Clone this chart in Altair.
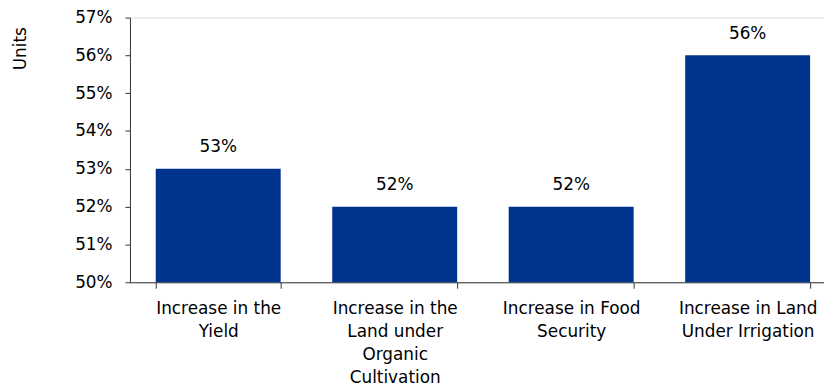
import altair as alt
import pandas as pd

categories = [
    "Increase in the Yield",
    "Increase in the Land under Organic Cultivation",
    "Increase in Food Security",
    "Increase in Land Under Irrigation",
]
label_lines = [
    "Increase in the|Yield",
    "Increase in the|Land under|Organic|Cultivation",
    "Increase in Food|Security",
    "Increase in Land|Under Irrigation",
]
values = [0.53, 0.52, 0.52, 0.56]
y_ticks = [0.50, 0.51, 0.52, 0.53, 0.54, 0.55, 0.56, 0.57]

df = pd.DataFrame({"cat": label_lines, "value": values, "name": categories})

FONT = "DejaVu Sans"

x_scale = alt.Scale(paddingInner=0.292, paddingOuter=0.1124, align=0.65)

x_enc = alt.X(
    "cat:N",
    sort=label_lines,
    title=None,
    scale=x_scale,
    axis=alt.Axis(
        labelAngle=0,
        labelExpr="split(datum.label, '|')",
        labelFont=FONT,
        labelFontSize=17,
        labelColor="#000000",
        labelLineHeight=23.5,
        labelPadding=12,
        labelBaseline="top",
        tickBand="extent",
        tickSize=6,
        tickColor="#333333",
        domainColor="#333333",
        labelLimit=300,
        labelOverlap=False,
    ),
)

y_scale = alt.Scale(domain=[0.50, 0.57], zero=False, nice=False)

bars = alt.Chart(df).mark_bar(color="#00338D").encode(
    x=x_enc,
    y=alt.Y(
        "value:Q",
        scale=y_scale,
        title="Units",
        axis=alt.Axis(
            values=y_ticks,
            tickCount=10,
            format=".0%",
            grid=False,
            labelFont=FONT,
            labelFontSize=17,
            labelColor="#000000",
            labelPadding=13,
            labelOverlap=False,
            labelFlush=False,
            tickSize=5,
            tickColor="#333333",
            domainColor="#333333",
            titleFont=FONT,
            titleFontSize=17,
            titleFontWeight="normal",
            titleColor="#000000",
            titleX=-110,
            titleY=31,
            titleAlign="center",
            titleBaseline="middle",
            titleAngle=-90,
        ),
    ),
    y2=alt.datum(0.50),
)

text = alt.Chart(df).mark_text(
    font=FONT, fontSize=17, color="#000000", baseline="middle", dy=-22
).encode(
    x=alt.X("cat:N", sort=label_lines, scale=x_scale),
    y=alt.Y("value:Q", scale=y_scale),
    text=alt.Text("value:Q", format=".0%"),
)

chart = (
    alt.layer(bars, text)
    .properties(
        width=700,
        height=267,
        autosize=alt.AutoSizeParams(type="none"),
        padding={"left": 123, "top": 8, "right": 0, "bottom": 104},
    )
    .configure_view(stroke=None)
    .configure(background="white")
)

chart.save("out.html", embed_options={"renderer": "svg", "actions": False})
